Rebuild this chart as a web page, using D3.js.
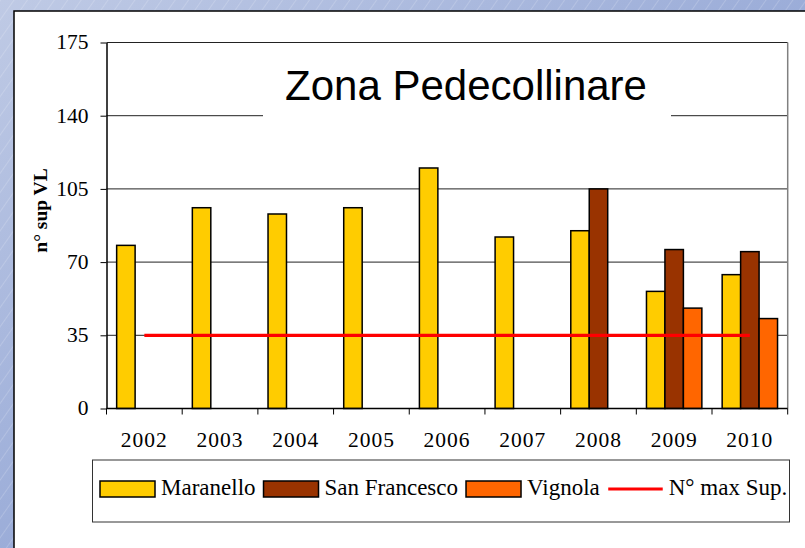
<!DOCTYPE html>
<html><head><meta charset="utf-8">
<script src="https://cdn.jsdelivr.net/npm/d3@7"></script>
<style>
html,body{margin:0;padding:0;overflow:hidden;background:#fff}
.serif{font-family:"Liberation Serif","Times New Roman",Times,serif}
.sans{font-family:"Liberation Sans",Arial,Helvetica,sans-serif}
</style>
</head><body>
<svg id="c" width="805" height="548"></svg>
<script>
const categories = ["2002","2003","2004","2005","2006","2007","2008","2009","2010"];
const seriesNames = ["Maranello","San Francesco","Vignola"];
const maranello    = [78, 96, 93, 96, 115, 82, 85, 56, 64];
const sanFrancesco = [null, null, null, null, null, null, 105, 76, 75];
const vignola      = [null, null, null, null, null, null, null, 48, 43];
const maxSup       = [35, 35, 35, 35, 35, 35, 35, 35, 35];
const lineName = "N° max Sup.";
const yTicks = [0, 35, 70, 105, 140, 175];
const colors = ["#FFCC00", "#993300", "#FF6600"];
const lineColor = "#FF0000";
const title = "Zona Pedecollinare";
const yLabel = "n° sup VL";

const svg = d3.select("#c");
const defs = svg.append("defs");
const grad = defs.append("linearGradient").attr("id","bg").attr("x1","0").attr("y1","0").attr("x2","1").attr("y2","1");
grad.append("stop").attr("offset","0").attr("stop-color","#bfcae5");
grad.append("stop").attr("offset","1").attr("stop-color","#7890cc");
const pat = defs.append("pattern").attr("id","stripes").attr("patternUnits","userSpaceOnUse")
  .attr("width",11).attr("height",11).attr("patternTransform","rotate(35)");
pat.append("line").attr("x1",0).attr("y1",0).attr("x2",0).attr("y2",11)
  .attr("stroke","#ffffff").attr("stroke-opacity",0.35).attr("stroke-width",1);

svg.append("rect").attr("width",805).attr("height",548).attr("fill","url(#bg)");
svg.append("rect").attr("width",805).attr("height",548).attr("fill","url(#stripes)");
svg.append("rect").attr("x",14).attr("y",11).attr("width",800).attr("height",560)
  .attr("fill","#fff").attr("stroke","#000").attr("stroke-width",1.5);

const L = 106.5, R = 787.7, T = 42.5, B = 408.5;
const x = d3.scaleBand().domain(categories).range([L, R]).paddingInner(0).paddingOuter(0);
const x1 = d3.scaleBand().domain(seriesNames).range([0, x.bandwidth()]).paddingInner(0).paddingOuter(0.55);
const y = d3.scaleLinear().domain([0, 175]).range([B, T]);

// gridlines
svg.append("g").selectAll("line").data(yTicks.filter(d => d > 0)).join("line")
  .attr("x1", L).attr("x2", R).attr("y1", d => y(d)).attr("y2", d => y(d))
  .attr("stroke", "#222").attr("stroke-width", 1);
svg.append("line").attr("x1", R).attr("x2", R).attr("y1", T).attr("y2", B)
  .attr("stroke", "#808080").attr("stroke-width", 1.5);

// title box + title
svg.append("rect").attr("x", 263).attr("y", 56).attr("width", 408).attr("height", 66).attr("fill", "#fff");
svg.append("text").attr("class","sans").attr("x", 466).attr("y", 100).attr("text-anchor", "middle")
  .attr("font-size", 42).attr("fill", "#000").text(title);

// bars
const seriesVals = [maranello, sanFrancesco, vignola];
const barData = [];
seriesVals.forEach((vals, si) => vals.forEach((v, ci) => {
  if (v != null) barData.push({cat: categories[ci], s: seriesNames[si], si, v});
}));
svg.append("g").selectAll("rect").data(barData).join("rect")
  .attr("x", d => x(d.cat) + x1(d.s)).attr("width", x1.bandwidth())
  .attr("y", d => y(d.v)).attr("height", d => y(0) - y(d.v))
  .attr("fill", d => colors[d.si]).attr("stroke", "#000").attr("stroke-width", 1.5);

// y axis
const yAxis = svg.append("g").attr("transform", `translate(${L},0)`)
  .call(d3.axisLeft(y).tickValues(yTicks).tickSize(6).tickSizeOuter(0).tickPadding(12));
yAxis.attr("font-family", null).attr("font-size", null);
yAxis.select(".domain").attr("stroke", "#000").attr("stroke-width", 1.5);
yAxis.selectAll(".tick line").attr("stroke", "#000");
yAxis.selectAll(".tick text").attr("class","serif")
  .attr("font-size", 21.5).attr("fill", "#000").attr("dy", "0.3em");

// x axis
svg.append("line").attr("x1", L).attr("x2", R).attr("y1", B).attr("y2", B).attr("stroke", "#000").attr("stroke-width", 1.5);
const bounds = categories.map(c => x(c)).concat([R]);
svg.append("g").selectAll("line").data(bounds).join("line")
  .attr("x1", d => d).attr("x2", d => d).attr("y1", B).attr("y2", B + 6).attr("stroke", "#000");
svg.append("g").selectAll("text").data(categories).join("text").attr("class","serif")
  .attr("x", d => x(d) + x.bandwidth() / 2).attr("y", 446.5).attr("text-anchor", "middle")
  .attr("font-size", 21.5).attr("letter-spacing", 1).attr("fill", "#000").text(d => d);

// red line
const line = d3.line().x((d, i) => x(categories[i]) + x.bandwidth() / 2).y(d => y(d));
svg.append("path").datum(maxSup).attr("d", line).attr("fill", "none")
  .attr("stroke", lineColor).attr("stroke-width", 3.2);

// y label
svg.append("text").attr("class","serif").attr("transform", "translate(47,210.5) rotate(-90)").attr("text-anchor", "middle")
  .attr("font-weight", "bold").attr("font-size", 19.5).attr("fill", "#000").text(yLabel);

// legend
svg.append("rect").attr("x", 92.5).attr("y", 460).attr("width", 697).attr("height", 62)
  .attr("fill", "#fff").attr("stroke", "#333").attr("stroke-width", 1);
const lg = svg.append("g");
let lx = 100;
const items = seriesNames.map((n, i) => ({name: n, color: colors[i], type: "rect"}))
  .concat([{name: lineName, color: lineColor, type: "line"}]);
items.forEach(it => {
  if (it.type === "rect") {
    lg.append("rect").attr("x", lx).attr("y", 481).attr("width", 55).attr("height", 16)
      .attr("fill", it.color).attr("stroke", "#000").attr("stroke-width", 1.5);
  } else {
    lg.append("line").attr("x1", lx + 0.5).attr("x2", lx + 55).attr("y1", 489).attr("y2", 489)
      .attr("stroke", it.color).attr("stroke-width", 3.2);
  }
  lx += 61;
  const t = lg.append("text").attr("class","serif").attr("x", lx).attr("y", 495)
    .attr("font-size", 23).attr("fill", "#000").text(it.name);
  lx += t.node().getComputedTextLength() + 8;
});
</script>
</body></html>
